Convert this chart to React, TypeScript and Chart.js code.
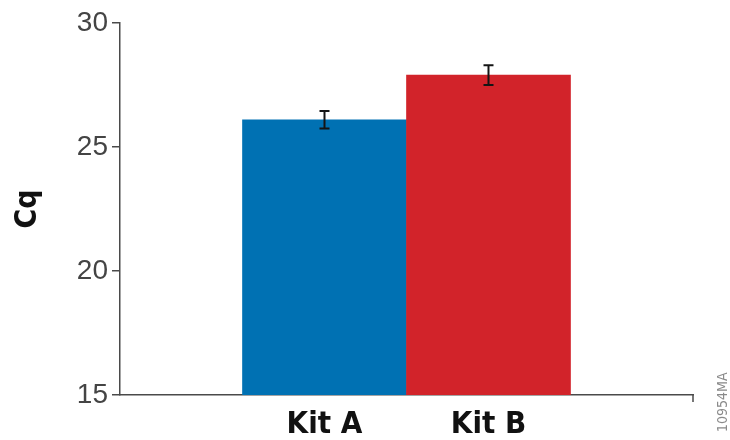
import { useEffect, useRef } from "react";
import { Chart, registerables } from "chart.js";

Chart.register(...registerables);

// Mean Cq per kit and the spread shown by the error bars
const categories = ["Kit A", "Kit B"];
const cqMeans = [26.1, 27.9];
const cqErrors = [0.35, 0.4];
const barColors = ["#0071b3", "#d2232a"];
const yTickValues = [15, 20, 25, 30];
const figureCode = "10954MA";

const AXIS_COLOR = "#4a4a4a";
const NARROW_BOLD = '"Liberation Sans Narrow", "DejaVu Sans Condensed", "Liberation Sans", sans-serif';

const errorBarsPlugin = {
  id: "errorBars",
  afterDatasetsDraw(chart: any) {
    const meta = chart.getDatasetMeta(0);
    const yScale = chart.scales.y;
    const ctx = chart.ctx;
    ctx.save();
    ctx.strokeStyle = "#151515";
    ctx.lineWidth = 2;
    meta.data.forEach((bar: any, i: number) => {
      const x = bar.x;
      const top = yScale.getPixelForValue(cqMeans[i] + cqErrors[i]);
      const bottom = yScale.getPixelForValue(cqMeans[i] - cqErrors[i]);
      const cap = 5;
      ctx.beginPath();
      ctx.moveTo(x, top);
      ctx.lineTo(x, bottom);
      ctx.moveTo(x - cap, top);
      ctx.lineTo(x + cap, top);
      ctx.moveTo(x - cap, bottom);
      ctx.lineTo(x + cap, bottom);
      ctx.stroke();
    });
    ctx.restore();
  },
};

const decorationsPlugin = {
  id: "decorations",
  afterDraw(chart: any) {
    const { ctx, chartArea } = chart;
    ctx.save();
    // closing tick at the right end of the x axis
    ctx.strokeStyle = AXIS_COLOR;
    ctx.lineWidth = 1.5;
    ctx.beginPath();
    ctx.moveTo(chartArea.right, chartArea.bottom);
    ctx.lineTo(chartArea.right, chartArea.bottom + 7);
    ctx.stroke();
    // figure code along the right edge
    ctx.translate(chart.width - 7, chart.height - 8);
    ctx.rotate(-Math.PI / 2);
    ctx.fillStyle = "#8a8a8a";
    ctx.font = '14px "Liberation Sans Narrow", "DejaVu Sans Condensed", "Liberation Sans", sans-serif';
    ctx.textAlign = "left";
    ctx.textBaseline = "middle";
    ctx.fillText(figureCode, 0, 0);
    ctx.restore();
  },
};

export default function App() {
  const canvasRef = useRef<HTMLCanvasElement | null>(null);

  useEffect(() => {
    if (!canvasRef.current) return;
    const chart = new Chart(canvasRef.current, {
      type: "bar",
      data: {
        datasets: [
          {
            data: cqMeans.map((v, i) => ({ x: i, y: v })),
            backgroundColor: barColors,
            borderWidth: 0,
            barPercentage: 1,
            categoryPercentage: 1,
          },
        ],
      },
      options: {
        animation: false,
        responsive: true,
        maintainAspectRatio: false,
        layout: { padding: { top: 23, right: 37, left: 0, bottom: 0 } },
        plugins: {
          legend: { display: false },
          tooltip: { enabled: false },
        },
        scales: {
          x: {
            type: "linear",
            offset: false,
            min: -1.247,
            max: 2.247,
            afterFit: (scale: any) => {
              scale.height = 45;
            },
            border: { display: true, color: AXIS_COLOR, width: 1.5 },
            grid: { display: false, drawTicks: false },
            ticks: {
              stepSize: 1,
              includeBounds: false,
              autoSkip: false,
              maxRotation: 0,
              padding: 11,
              color: "#111",
              font: { family: NARROW_BOLD, size: 31, weight: "bold" },
              callback: (v: any) => (Number.isInteger(v) && categories[v] ? categories[v] : ""),
            },
          },
          y: {
            min: 15,
            max: 30,
            afterFit: (scale: any) => {
              scale.width = 120;
            },
            afterBuildTicks: (scale: any) => {
              scale.ticks = yTickValues.map((value) => ({ value }));
            },
            border: { display: true, color: AXIS_COLOR, width: 1.5 },
            grid: { drawOnChartArea: false, tickLength: 8, color: AXIS_COLOR, lineWidth: 1.5 },
            ticks: {
              padding: 4,
              color: "#444",
              font: { family: '"Liberation Sans", Arial, sans-serif', size: 28 },
            },
            title: {
              display: true,
              text: "Cq",
              color: "#111",
              padding: { top: 10, bottom: 0 },
              font: { family: NARROW_BOLD, size: 30, weight: "bold" },
            },
          },
        },
      },
      plugins: [errorBarsPlugin, decorationsPlugin],
    });
    return () => chart.destroy();
  }, []);

  return (
    <div style={{ position: "absolute", left: 0, top: 0, width: 730, height: 440, background: "#fff" }}>
      <canvas ref={canvasRef} />
    </div>
  );
}
